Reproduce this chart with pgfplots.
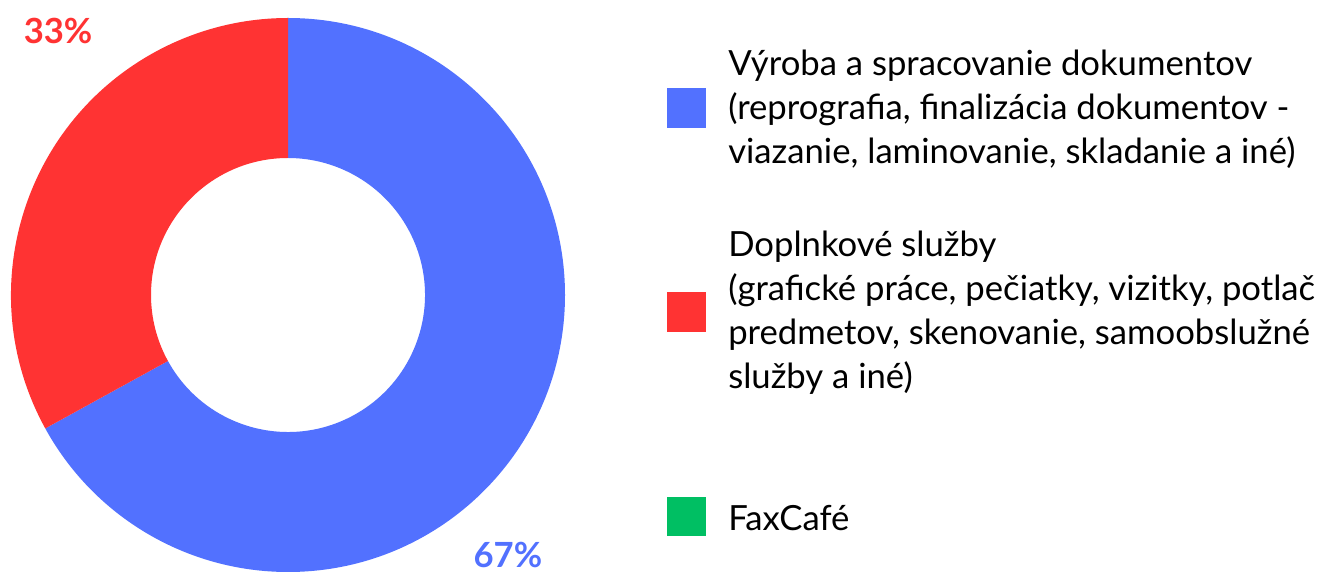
\documentclass[border=0pt]{standalone}
\usepackage{fontspec}
\setmainfont{Lato}
\usepackage{pgfplots}
\usepackage{pgfplotstable}
\pgfplotsset{compat=1.18}
\usetikzlibrary{calc}
\definecolor{cblue}{RGB}{82,113,255}
\definecolor{cred}{RGB}{255,51,51}
\definecolor{cgreen}{RGB}{0,191,99}
\pgfplotstableread{
label value
Vyroba 67
Doplnkove 33
FaxCafe 0
}\datatable
\begin{document}
\begin{tikzpicture}[x=0.75pt,y=0.75pt]
\useasboundingbox (0,0) rectangle (1318,575);
\pgfplotstablegetelem{0}{value}\of\datatable \let\va\pgfplotsretval
\pgfplotstablegetelem{1}{value}\of\datatable \let\vb\pgfplotsretval
\pgfplotstablegetelem{2}{value}\of\datatable \let\vc\pgfplotsretval
\pgfmathsetmacro{\tot}{\va+\vb+\vc}
\pgfmathsetmacro{\angA}{90-360*(\va/\tot)}
\def\Ro{207.75pt}
\def\Ri{102.75pt}
\begin{axis}[at={(216pt,210pt)}, anchor=center, hide axis, scale only axis,
  width=415.5pt, height=415.5pt, xmin=-1, xmax=1, ymin=-1, ymax=1, clip=false]
\fill[cblue] ($(axis cs:0,0)+(90:\Ro)$) arc[start angle=90, end angle=\angA, radius=\Ro]
  -- ($(axis cs:0,0)+(\angA:\Ri)$) arc[start angle=\angA, end angle=90, radius=\Ri] -- cycle;
\fill[cred] ($(axis cs:0,0)+(\angA:\Ro)$) arc[start angle=\angA, end angle=-270, radius=\Ro]
  -- ($(axis cs:0,0)+(90:\Ri)$) arc[start angle=-270, end angle=\angA, radius=\Ri] -- cycle;
\node[inner sep=0pt, text=cred, font=\fontsize{26}{30}\selectfont\bfseries] at (axis cs:-0.830,0.953) {\vb\%};
\node[inner sep=0pt, text=cblue, font=\fontsize{26}{30}\selectfont\bfseries] at (axis cs:0.794,-0.94) {\va\%};
\end{axis}
\fill[cblue] (667,447) rectangle (706,487);
\fill[cred] (667,243) rectangle (706,283);
\fill[cgreen] (667,39) rectangle (706,78);
\node[anchor=west, align=left, inner sep=0pt, font=\fontsize{26}{33}\selectfont] at (728,466)
 {Výroba a spracovanie dokumentov\\(reprografia, finalizácia dokumentov -\\viazanie, laminovanie, skladanie a iné)};
\node[anchor=west, align=left, inner sep=0pt, font=\fontsize{26}{33}\selectfont] at (728,262)
 {Doplnkové služby\\(grafické práce, pečiatky, vizitky, potlač\\predmetov, skenovanie, samoobslužné\\služby a iné)};
\node[anchor=west, align=left, inner sep=0pt, font=\fontsize{26}{33}\selectfont] at (728,57)
 {FaxCafé};
\end{tikzpicture}
\end{document}
